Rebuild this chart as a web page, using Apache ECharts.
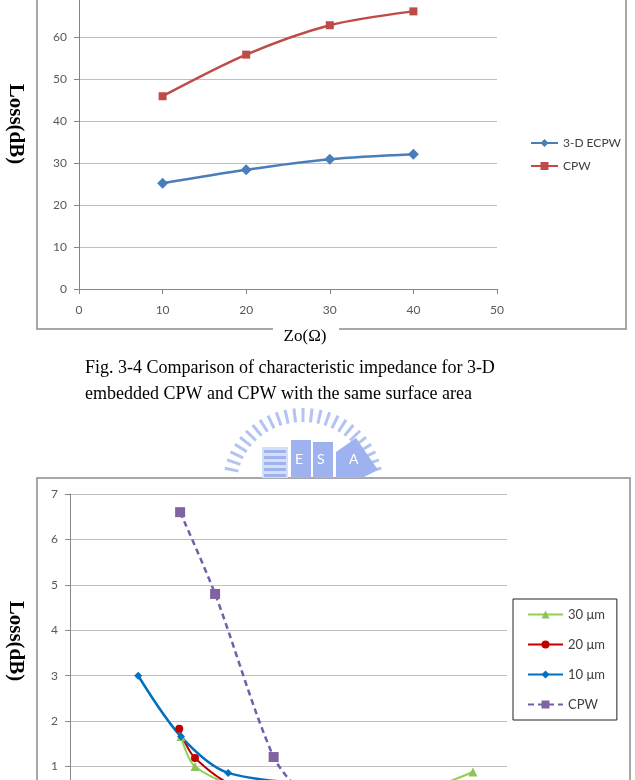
<!DOCTYPE html>
<html>
<head>
<meta charset="utf-8">
<script src="https://cdn.jsdelivr.net/npm/echarts@6/dist/echarts.min.js"></script>
<style>
  html, body { margin: 0; padding: 0; background: #fff; }
  #chart { width: 635px; height: 780px; }
</style>
</head>
<body>
<div id="chart"></div>
<script>
//上图: 特性阻抗对比
var zoTicks = [0, 10, 20, 30, 40, 50];
var zoVals = [10, 20, 30, 40];
var lossEcpw = [25.2, 28.4, 30.9, 32.1];
var lossCpw = [45.9, 55.8, 62.8, 66.1];

//下图: 不同宽度 (x 轴刻度在图外, 看不到)
var x30um = [12.7, 14.3, 20.6, 37.8, 46.1];
var loss30um = [1.66, 1.0, 0.5, 0.4, 0.88];
var x20um = [12.5, 14.3, 19.5, 35];
var loss20um = [1.83, 1.19, 0.55, 0.45];
var x10um = [7.8, 12.7, 18.1, 29.7];
var loss10um = [3.0, 1.66, 0.86, 0.6];
var xCpwB = [12.6, 16.6, 23.3, 27];
var lossCpwB = [6.6, 4.8, 1.21, 0.3];

var captionLines = [
    'Fig. 3-4 Comparison of characteristic impedance for 3-D',
    'embedded CPW and CPW with the same surface area'
];

var tickFont = 'Lato, "Open Sans", sans-serif';
var serifFont = '"Liberation Serif", "DejaVu Serif", serif';

function pairs(xs, ys) {
    var out = [];
    for (var i = 0; i < xs.length; i++) out.push([xs[i], ys[i]]);
    return out;
}

function axisBase(extra) {
    var a = {
        type: 'value',
        axisLine: { show: true, lineStyle: { color: '#868686', width: 1 } },
        axisTick: { show: true, length: 5, lineStyle: { color: '#868686' } },
        axisLabel: { color: '#595959', fontFamily: tickFont, fontSize: 12 },
        splitLine: { show: false }
    };
    for (var k in extra) a[k] = extra[k];
    return a;
}

//校徽水印 (装饰)
function logoGraphics() {
    var g = [], cx = 303, cy = 484;
    for (var deg = 12; deg <= 168; deg += 6.5) {
        var r = deg * Math.PI / 180;
        g.push({
            type: 'line', silent: true,
            shape: {
                x1: cx + Math.cos(r) * 66, y1: cy - Math.sin(r) * 62,
                x2: cx + Math.cos(r) * 80, y2: cy - Math.sin(r) * 76
            },
            style: { stroke: '#b3c3f2', lineWidth: 3 }
        });
    }
    g.push({ type: 'rect', silent: true, shape: { x: 262, y: 447, width: 26, height: 31 }, style: { fill: '#d5def8' } });
    for (var i = 0; i < 5; i++) {
        g.push({ type: 'rect', silent: true, shape: { x: 264, y: 450 + i * 6, width: 22, height: 3 }, style: { fill: '#9db2ee' } });
    }
    g.push({ type: 'rect', silent: true, shape: { x: 291, y: 440, width: 20, height: 38 }, style: { fill: '#9db2ee' } });
    g.push({ type: 'rect', silent: true, shape: { x: 313, y: 442, width: 20, height: 36 }, style: { fill: '#9db2ee' } });
    g.push({ type: 'polygon', silent: true, shape: { points: [[336, 452], [356, 438], [378, 470], [362, 478], [336, 478]] }, style: { fill: '#9db2ee' } });
    g.push({ type: 'text', silent: true, left: 295, top: 452, style: { text: 'E', fill: '#fff', font: '14px ' + tickFont } });
    g.push({ type: 'text', silent: true, left: 317, top: 452, style: { text: 'S', fill: '#fff', font: '14px ' + tickFont } });
    g.push({ type: 'text', silent: true, left: 349, top: 452, style: { text: 'A', fill: '#fff', font: '14px ' + tickFont } });
    return g;
}

function textGraphics() {
    var g = [];
    //边框
    g.push({ type: 'rect', silent: true, z: -1, shape: { x: 37, y: -10, width: 589, height: 339 },
        style: { fill: null, stroke: '#8c8c8c', lineWidth: 1.5 } });
    g.push({ type: 'rect', silent: true, z: -1, shape: { x: 37, y: 478, width: 593, height: 400 },
        style: { fill: null, stroke: '#8c8c8c', lineWidth: 1.5 } });
    //纵轴标题
    g.push({ type: 'text', silent: true, x: 15, y: 124, rotation: -Math.PI / 2,
        style: { text: 'Loss(dB)', font: 'bold 21px ' + serifFont, fill: '#000', align: 'center', verticalAlign: 'middle' } });
    g.push({ type: 'text', silent: true, x: 15, y: 641, rotation: -Math.PI / 2,
        style: { text: 'Loss(dB)', font: 'bold 21px ' + serifFont, fill: '#000', align: 'center', verticalAlign: 'middle' } });
    //横轴标题, 盖住边框
    g.push({ type: 'rect', silent: true, shape: { x: 273, y: 325, width: 66, height: 10 }, style: { fill: '#fff' } });
    g.push({ type: 'text', silent: true, x: 305, y: 337,
        style: { text: 'Zo(Ω)', font: '17px ' + serifFont, fill: '#000', align: 'center', verticalAlign: 'middle' } });
    //图注
    for (var i = 0; i < captionLines.length; i++) {
        g.push({ type: 'text', silent: true, x: 85, y: 368 + i * 26,
            style: { text: captionLines[i], font: '18px ' + serifFont, fill: '#000', verticalAlign: 'middle' } });
    }
    return g;
}

function initChart() {
    var chart = echarts.init(document.getElementById('chart'), null, { renderer: 'canvas' });
    var option = {
        animation: false,
        backgroundColor: '#fff',
        grid: [
            { left: 79, right: 138, top: -5, height: 294, outerBoundsMode: 'none', containLabel: false },
            { left: 70, right: 128, top: 494, height: 318, outerBoundsMode: 'none', containLabel: false }
        ],
        xAxis: [
            axisBase({ gridIndex: 0, min: zoTicks[0], max: zoTicks[zoTicks.length - 1], interval: 10,
                axisLabel: { color: '#595959', fontFamily: tickFont, fontSize: 12, margin: 15 } }),
            axisBase({ gridIndex: 1, min: 0, max: 50, interval: 10 })
        ],
        yAxis: [
            axisBase({ gridIndex: 0, min: 0, max: 70, interval: 10,
                axisLabel: { color: '#595959', fontFamily: tickFont, fontSize: 12, margin: 12, showMaxLabel: false },
                splitLine: { show: true, lineStyle: { color: '#bfbfbf', width: 1 } } }),
            axisBase({ gridIndex: 1, min: 0, max: 7, interval: 1,
                axisLabel: { color: '#595959', fontFamily: tickFont, fontSize: 12, margin: 12 },
                splitLine: { show: true, lineStyle: { color: '#bfbfbf', width: 1 } } })
        ],
        legend: [
            {
                data: ['3-D ECPW', 'CPW'],
                orient: 'vertical', left: 530, top: 137, padding: 0,
                itemWidth: 27, itemHeight: 10, itemGap: 11,
                textStyle: { color: '#404040', fontFamily: tickFont, fontSize: 12 }
            },
            {
                data: ['30 μm', '20 μm', '10 μm', 'CPW '],
                orient: 'vertical', left: 513, top: 599,
                padding: [9, 12, 9, 14], itemWidth: 35, itemHeight: 10, itemGap: 17,
                borderColor: '#222', borderWidth: 1,
                textStyle: { color: '#404040', fontFamily: tickFont, fontSize: 13 }
            }
        ],
        graphic: logoGraphics().concat(textGraphics()),
        series: [
            { name: '3-D ECPW', type: 'line', xAxisIndex: 0, yAxisIndex: 0, smooth: 0.3,
              data: pairs(zoVals, lossEcpw), symbol: 'diamond', symbolSize: 11,
              itemStyle: { color: '#4a7ebb' }, lineStyle: { color: '#4a7ebb', width: 2.5 } },
            { name: 'CPW', type: 'line', xAxisIndex: 0, yAxisIndex: 0, smooth: 0.3,
              data: pairs(zoVals, lossCpw), symbol: 'rect', symbolSize: 8,
              itemStyle: { color: '#be4b48' }, lineStyle: { color: '#be4b48', width: 2.5 } },
            { name: '30 μm', type: 'line', xAxisIndex: 1, yAxisIndex: 1, smooth: 0.3,
              data: pairs(x30um, loss30um), symbol: 'triangle', symbolSize: 9,
              itemStyle: { color: '#8fc35a' }, lineStyle: { color: '#92d050', width: 2 } },
            { name: '20 μm', type: 'line', xAxisIndex: 1, yAxisIndex: 1, smooth: 0.3,
              data: pairs(x20um, loss20um), symbol: 'circle', symbolSize: 8,
              itemStyle: { color: '#c00000' }, lineStyle: { color: '#c00000', width: 2 } },
            { name: '10 μm', type: 'line', xAxisIndex: 1, yAxisIndex: 1, smooth: 0.3,
              data: pairs(x10um, loss10um), symbol: 'diamond', symbolSize: 8,
              itemStyle: { color: '#0070c0' }, lineStyle: { color: '#0070c0', width: 2.5 } },
            { name: 'CPW ', type: 'line', xAxisIndex: 1, yAxisIndex: 1, smooth: 0.3,
              data: pairs(xCpwB, lossCpwB), symbol: 'rect', symbolSize: 10,
              itemStyle: { color: '#8064a2' }, lineStyle: { color: '#7060a8', width: 2.5, type: [6, 4] } }
        ]
    };
    chart.setOption(option);
}

initChart();
</script>
</body>
</html>
